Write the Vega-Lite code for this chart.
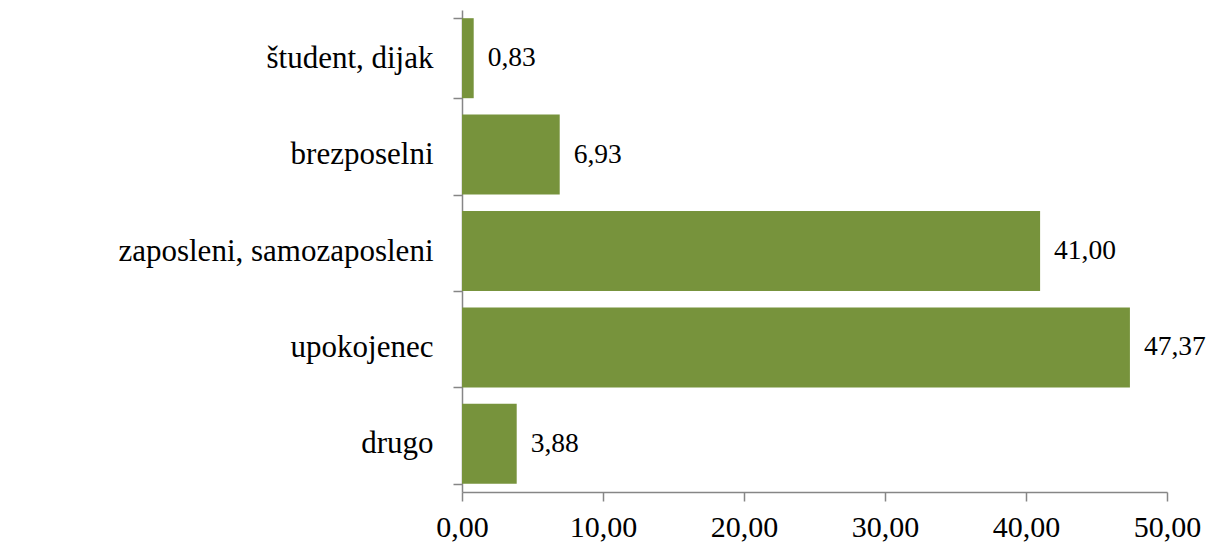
{
  "$schema": "https://vega.github.io/schema/vega-lite/v6.json",
  "autosize": {"type": "none"},
  "padding": {"left": 462, "top": 10, "right": 41, "bottom": 54},
  "width": 705,
  "height": 482,
  "background": "white",
  "config": {
    "view": {"stroke": null},
    "locale": {"number": {"decimal": ",", "thousands": ".", "grouping": [3], "currency": ["", " €"]}},
    "font": "Liberation Serif"
  },
  "data": {
    "values": [
      {"kategorija": "študent, dijak", "delez": 0.83},
      {"kategorija": "brezposelni", "delez": 6.93},
      {"kategorija": "zaposleni, samozaposleni", "delez": 41.0},
      {"kategorija": "upokojenec", "delez": 47.37},
      {"kategorija": "drugo", "delez": 3.88}
    ]
  },
  "encoding": {
    "y": {
      "field": "kategorija",
      "type": "nominal",
      "sort": null,
      "scale": {"paddingInner": 0.17, "paddingOuter": 0.085},
      "axis": {
        "title": null,
        "tickBand": "extent",
        "domainColor": "#868686",
        "tickColor": "#868686",
        "tickSize": 9,
        "labelPadding": 20,
        "labelLimit": 0,
        "labelFontSize": 31,
        "labelColor": "black",
        "labelFont": "Liberation Serif",
        "domainWidth": 1.5,
        "tickWidth": 1.5
      }
    },
    "x": {
      "field": "delez",
      "type": "quantitative",
      "scale": {"domain": [0, 50], "nice": false},
      "axis": {
        "title": null,
        "values": [0, 10, 20, 30, 40, 50],
        "format": ".2f",
        "grid": false,
        "labelFlush": false,
        "domainColor": "#868686",
        "tickColor": "#868686",
        "tickSize": 9,
        "labelPadding": 11,
        "labelFontSize": 30,
        "labelColor": "black",
        "labelFont": "Liberation Serif",
        "domainWidth": 1.5,
        "tickWidth": 1.5
      }
    }
  },
  "layer": [
    {"mark": {"type": "bar", "color": "#77933C"}},
    {
      "mark": {"type": "text", "align": "left", "baseline": "middle", "dx": 14, "fontSize": 27.5, "font": "Liberation Serif", "color": "black"},
      "encoding": {"text": {"field": "delez", "type": "quantitative", "format": ".2f"}}
    }
  ]
}
